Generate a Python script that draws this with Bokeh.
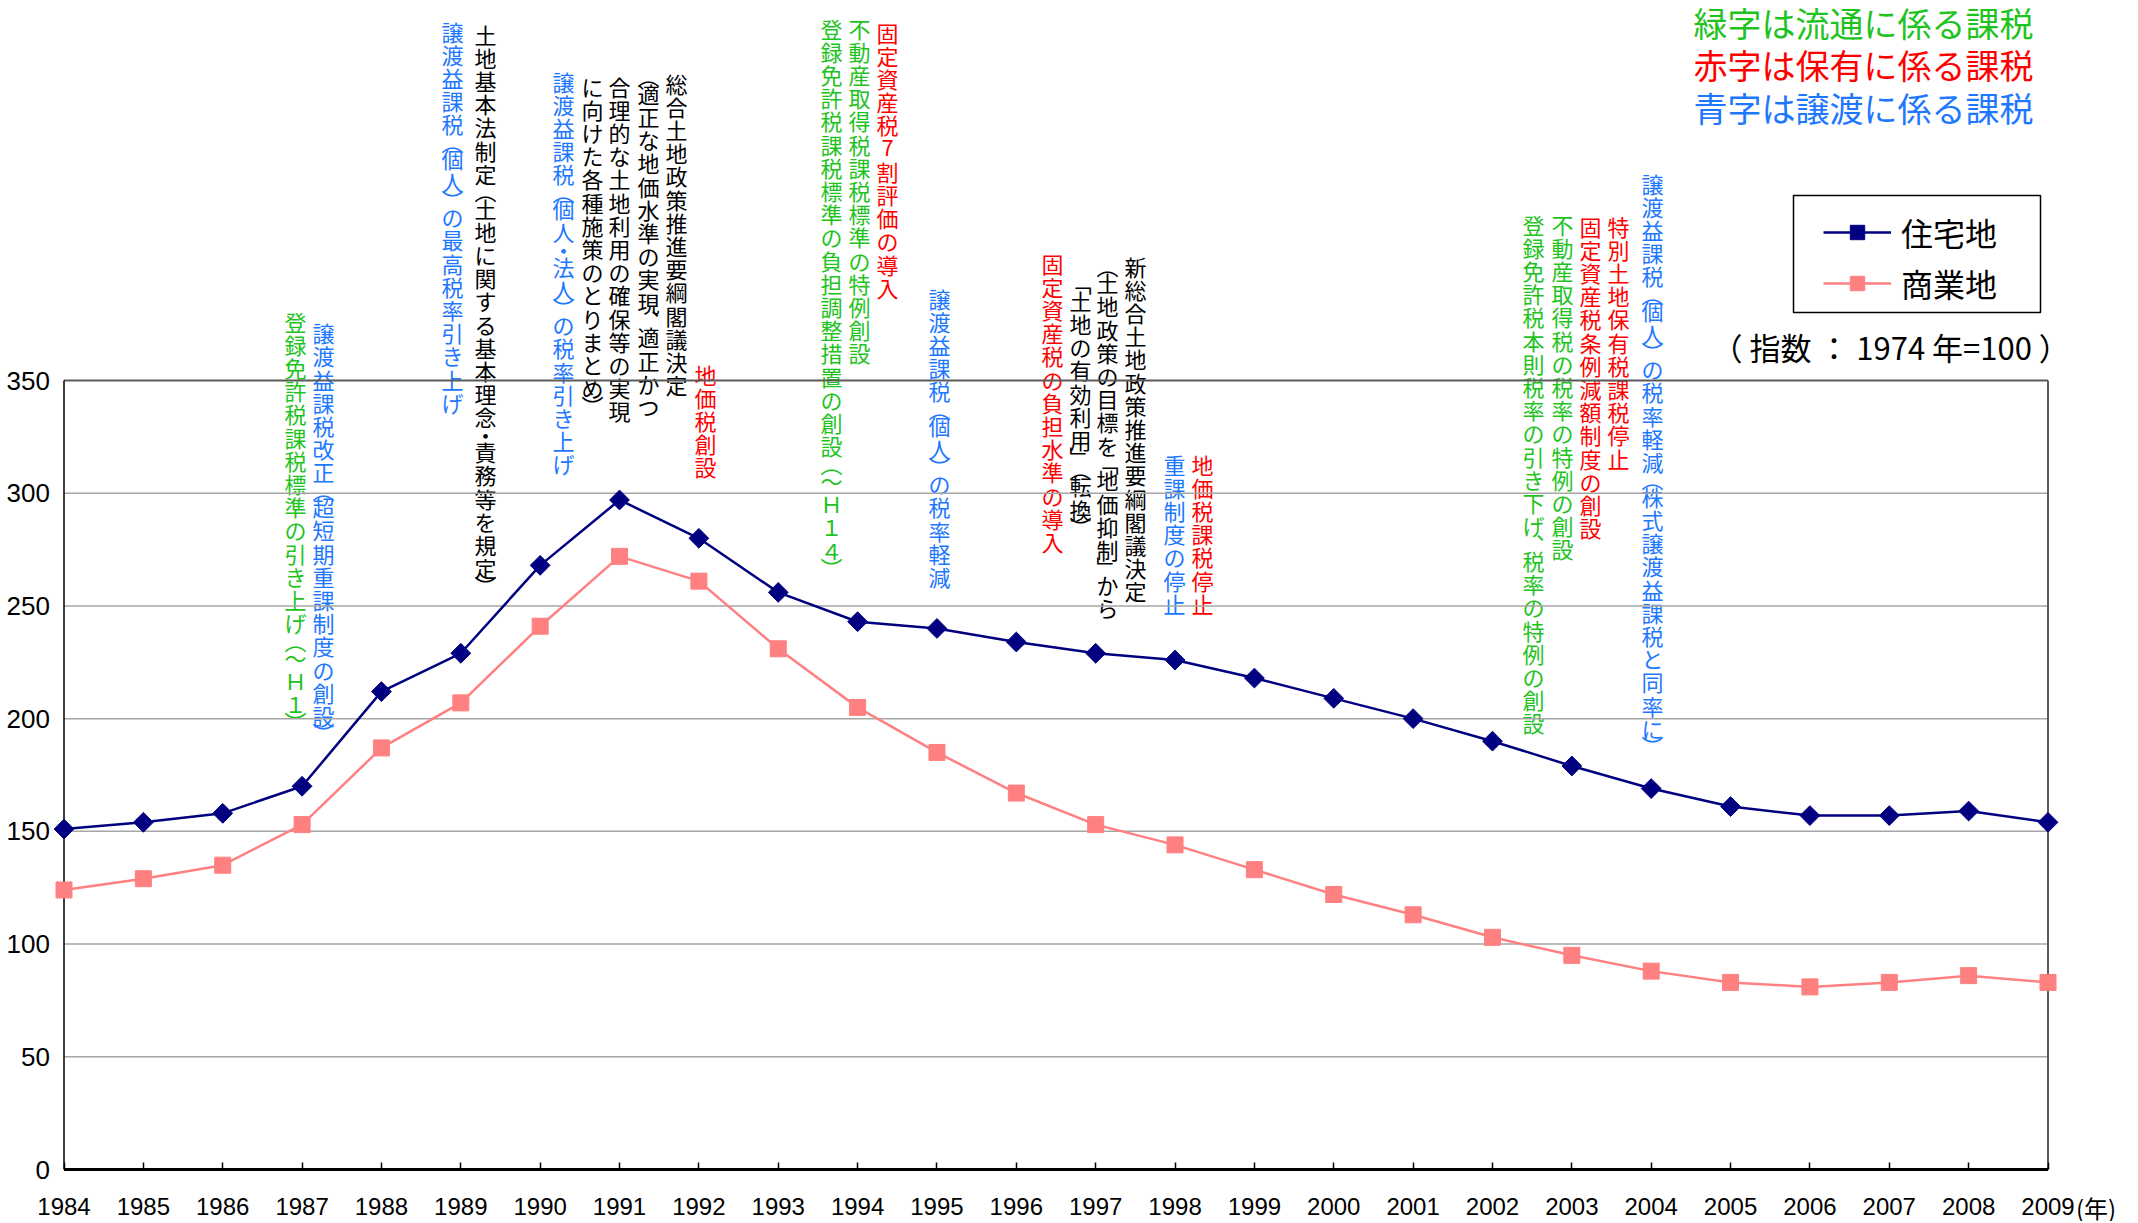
import numpy as np
from bokeh.plotting import figure
from bokeh.models import Range1d, FixedTicker, Legend, LegendItem, ColumnDataSource
from bokeh.core.properties import value
from bokeh.embed import file_html
from bokeh.resources import INLINE

# ---------------- data ----------------
years = list(range(1984, 2010))
residential = [151, 154, 158, 170, 212, 229, 268, 297, 280, 256, 243, 240, 234,
               229, 226, 218, 209, 200, 190, 179, 169, 161, 157, 157, 159, 154]
commercial = [124, 129, 135, 153, 187, 207, 241, 272, 261, 231, 205, 185, 167,
              153, 144, 133, 122, 113, 103, 95, 88, 83, 81, 83, 86, 83]
y_ticks = [0, 50, 100, 150, 200, 250, 300, 350]
grid_values = [50, 100, 150, 200, 250, 300]
series_names = ["住宅地", "商業地"]
key_texts = ["緑字は流通に係る課税", "赤字は保有に係る課税", "青字は譲渡に係る課税"]
key_kinds = ["green", "red", "blue"]
index_note = "（ 指数 ： 1974 年=100 ）"
year_unit = "(年)"

note_text = [
    "登録免許税課税標準の引き上げ（〜Ｈ１）",
    "譲渡益課税改正（超短期重課制度の創設）",
    "譲渡益課税（個人）の最高税率引き上げ",
    "土地基本法制定（土地に関する基本理念・責務等を規定）",
    "譲渡益課税（個人・法人）の税率引き上げ",
    "に向けた各種施策のとりまとめ）",
    "合理的な土地利用の確保等の実現",
    "（適正な地価水準の実現、適正かつ",
    "総合土地政策推進要綱閣議決定",
    "地価税創設",
    "登録免許税課税標準の負担調整措置の創設（〜Ｈ１４）",
    "不動産取得税課税標準の特例創設",
    "固定資産税7割評価の導入",
    "譲渡益課税（個人）の税率軽減",
    "固定資産税の負担水準の導入",
    "「土地の有効利用」（転換）",
    "（土地政策の目標を「地価抑制」から",
    "新総合土地政策推進要綱閣議決定",
    "重課制度の停止",
    "地価税課税停止",
    "登録免許税本則税率の引き下げ、税率の特例の創設",
    "不動産取得税の税率の特例の創設",
    "固定資産税条例減額制度の創設",
    "特別土地保有税課税停止",
    "譲渡益課税（個人）の税率軽減（株式譲渡益課税と同率に）",
]
note_kind = ["green", "blue", "blue", "black", "blue", "black", "black", "black",
             "black", "red", "green", "green", "red", "blue", "red", "black",
             "black", "black", "blue", "red", "green", "green", "red", "red", "blue"]

# ---------------- layout (page pixels) ----------------
note_pos = [  # (x centre, top of first cell)
    (295, 308.5), (323, 320), (452, 18.5), (485, 21.5),
    (563, 68.5), (592, 73.5), (619, 73.5), (648, 69),
    (676, 70.5), (705, 361.5), (831, 15.5), (859, 15.5),
    (887, 19.5), (939, 285.5), (1052, 250.5), (1080, 276),
    (1107, 258.5), (1135, 253.5), (1174, 451.5), (1202, 451.5),
    (1533, 211.5), (1562, 211.5), (1590, 213.5), (1618, 213.5),
    (1652, 170.5),
]
COLORS = {"green": "#1EC31E", "red": "#FF0000", "blue": "#1E78FF", "black": "#000000"}
JP = "Noto Sans CJK JP"
LAT = "Liberation Sans"
VERT = {"（": "︵", "）": "︶", "「": "﹁", "」": "﹂", "、": "︑"}
HALF = set("（）「」、・")
PITCH = 23.2
FS = 22

W, H = 2136, 1221
FX0, FX1 = 63.5, 2047.5      # px of first / last year
FY0, FY1 = 1169.0, 380.0     # px of y=0 / y=350


def dx(px):
    return years[0] + (px - FX0) * (years[-1] - years[0]) / (FX1 - FX0)


def dy(py):
    return (FY0 - py) * y_ticks[-1] / (FY0 - FY1)


p = figure(width=W, height=H, output_backend="svg", toolbar_location=None,
           title=None,
           x_range=Range1d(dx(0), dx(W)), y_range=Range1d(dy(H), dy(0)),
           min_border=0, min_border_left=0, min_border_right=0,
           min_border_top=0, min_border_bottom=0)
p.outline_line_color = None
p.background_fill_color = "white"
p.border_fill_color = "white"
p.xgrid.visible = False
p.ygrid.visible = False

# axes (fixed inside the frame)
xa = p.xaxis[0]
xa.fixed_location = 0
xa.ticker = FixedTicker(ticks=years)
xa.axis_line_color = None
xa.major_tick_in = 7
xa.major_tick_out = 0
xa.major_tick_line_color = "black"
xa.major_tick_line_width = 1.5
xa.minor_tick_line_color = None
xa.major_label_text_font = LAT
xa.major_label_text_font_size = "24px"
xa.major_label_text_color = "black"
xa.major_label_standoff = 28

ya = p.yaxis[0]
ya.fixed_location = years[0]
ya.ticker = FixedTicker(ticks=y_ticks)
ya.axis_line_color = None
ya.major_tick_in = 0
ya.major_tick_out = 0
ya.minor_tick_line_color = None
ya.major_label_text_font = LAT
ya.major_label_text_font_size = "26px"
ya.major_label_text_color = "black"
ya.major_label_standoff = 14

# vertical annotations: one upright character per cell, punctuation in half cells
cx, cy, ct, cc = [], [], [], []
for txt, kind, (xp, top) in zip(note_text, note_kind, note_pos):
    pos = top
    for ch in txt:
        h = PITCH * (0.5 if ch in HALF else 1.0)
        cx.append(dx(xp))
        cy.append(dy(pos + h / 2))
        ct.append(VERT.get(ch, ch))
        cc.append(COLORS[kind])
        pos += h
chars = ColumnDataSource(dict(x=cx, y=cy, text=ct, color=cc))
p.text(x="x", y="y", text="text", text_color="color", source=chars,
       text_font=value(JP), text_font_size=f"{FS}px",
       text_align="center", text_baseline="middle")

# colour key & index note
key_y = [22, 64, 107]
p.text(x=[dx(1693)] * 3, y=[dy(v) for v in key_y], text=key_texts,
       text_font=value(JP), text_font_size="34px",
       text_color=[COLORS[k] for k in key_kinds],
       text_align="left", text_baseline="middle")
p.text(x=[dx(1711)], y=[dy(346)], text=[index_note],
       text_font=value(JP), text_font_size="31px", text_color="black",
       text_align="left", text_baseline="middle")
p.text(x=[years[-1]], y=[dy(1207)], text=[year_unit], x_offset=28,
       text_font=value(JP), text_font_size="24px", text_color="black",
       text_align="left", text_baseline="middle")

# grid & frame
p.segment(x0=years[0], x1=years[-1], y0=grid_values, y1=grid_values,
          line_color="#A6A6A6", line_width=1.5)
p.segment(x0=[years[0], years[-1]], x1=[years[-1], years[-1]],
          y0=[y_ticks[-1], 0], y1=[y_ticks[-1], y_ticks[-1]],
          line_color="#5A5A5A", line_width=2)
p.segment(x0=[years[0]], x1=[years[0]], y0=[0], y1=[y_ticks[-1]],
          line_color="black", line_width=1.5)
p.segment(x0=[years[0]], x1=[years[-1]], y0=[0], y1=[0],
          line_color="black", line_width=3)

# legend frame
p.quad(left=[dx(1793)], right=[dx(2040)], top=[dy(195)], bottom=[dy(312)],
       fill_color="white", line_color="black", line_width=1.5)

# data
r1 = p.line(years, residential, line_color="#000080", line_width=2.5)
s1 = p.scatter(years, residential, marker="square", size=14, angle=np.pi / 4,
               fill_color="#000080", line_color="#000080")
r2 = p.line(years, commercial, line_color="#FF8080", line_width=2.5)
s2 = p.scatter(years, commercial, marker="square", size=16,
               fill_color="#FF8080", line_color="#FF8080")

LEG_PAD = 12
legend = Legend(items=[LegendItem(label=series_names[0], renderers=[r1, s1]),
                       LegendItem(label=series_names[1], renderers=[r2, s2])],
                location=(1824 - LEG_PAD + 11, H - 305.5))
legend.border_line_color = None
legend.background_fill_alpha = 0
legend.label_text_font = JP
legend.label_text_font_size = "32px"
legend.label_text_color = "black"
legend.glyph_width = 68
legend.glyph_height = 36
legend.label_standoff = 10
legend.label_height = 20
legend.spacing = 5
legend.padding = LEG_PAD
legend.margin = 0
p.add_layout(legend)

open("out.html", "w").write(file_html(p, INLINE))
